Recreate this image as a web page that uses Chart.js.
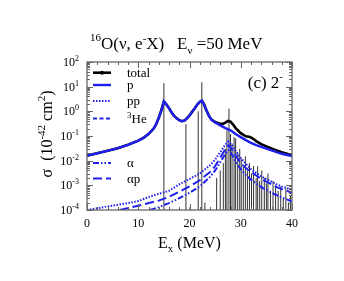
<!DOCTYPE html>
<html lang="en">
<head>
<meta charset="UTF-8">
<title>16O(nu, e- X) 2- partial cross sections</title>
<script src="https://cdnjs.cloudflare.com/ajax/libs/Chart.js/4.4.0/chart.umd.min.js"></script>
<style>
  html, body { margin: 0; padding: 0; background: #fff; }
  canvas { display: block; }
</style>
</head>
<body>
<canvas id="chart" width="344" height="281"></canvas>
<script>
// cross sections in 10^-42 cm^2 vs excitation energy Ex (MeV)
const pE   = [0, 2, 4, 6, 8, 10, 11, 12, 13, 13.5, 14, 14.5, 15, 15.5, 16, 16.5, 17, 17.5, 18, 18.5, 19, 19.5, 20, 20.5, 21, 21.5, 22, 22.4, 22.8, 23.3, 23.8, 24.3, 25, 26, 27, 28, 29, 30, 31, 32, 33, 34, 35, 36, 37, 38, 39, 40];
const pVal = [0.016, 0.02, 0.025, 0.032, 0.044, 0.065, 0.083, 0.12, 0.2, 0.3, 0.55, 1.1, 2.5, 1.9, 1.35, 0.9, 0.65, 0.52, 0.44, 0.4, 0.42, 0.52, 0.68, 0.95, 1.3, 1.85, 2.4, 2.7, 2.0, 1.1, 0.65, 0.45, 0.35, 0.27, 0.21, 0.17, 0.12, 0.09, 0.068, 0.053, 0.043, 0.036, 0.031, 0.026, 0.022, 0.019, 0.017, 0.0152];

const totE   = [0, 2, 4, 6, 8, 10, 11, 12, 13, 13.5, 14, 14.5, 15, 15.5, 16, 16.5, 17, 17.5, 18, 18.5, 19, 19.5, 20, 20.5, 21, 21.5, 22, 22.4, 22.8, 23.3, 23.8, 24.3, 25, 26, 26.5, 27, 27.5, 28, 28.5, 29, 30, 31, 31.8, 32.5, 33, 34, 35, 36, 37, 38, 39, 40];
const totVal = [0.016, 0.02, 0.025, 0.032, 0.044, 0.065, 0.083, 0.12, 0.2, 0.3, 0.55, 1.1, 2.5, 1.9, 1.35, 0.9, 0.65, 0.52, 0.44, 0.4, 0.42, 0.52, 0.68, 0.95, 1.3, 1.85, 2.4, 2.7, 2.0, 1.1, 0.65, 0.46, 0.37, 0.31, 0.31, 0.35, 0.41, 0.38, 0.29, 0.21, 0.13, 0.097, 0.092, 0.075, 0.062, 0.047, 0.038, 0.031, 0.026, 0.022, 0.019, 0.0165];

const ppE   = [0, 4, 8, 10, 12.3, 14, 16, 18, 20, 22, 24, 25, 26, 27, 27.6, 28.2, 29, 30, 31, 32, 33, 34, 35, 36, 37, 38, 39, 40];
const ppVal = [1.0e-4, 1.4e-4, 1.9e-4, 2.3e-4, 3.5e-4, 4.5e-4, 6e-4, 1.1e-3, 1.8e-3, 3.0e-3, 6.5e-3, 0.011, 0.022, 0.045, 0.06, 0.045, 0.025, 0.013, 7.5e-3, 4.5e-3, 3.2e-3, 2.3e-3, 1.8e-3, 1.4e-3, 1.1e-3, 9e-4, 7.8e-4, 6.5e-4];

// 3He channel stays below the plotted range
const he3E   = [];
const he3Val = [];

const aE   = [12.3, 14, 16, 18, 20, 22, 24, 25, 26, 27, 27.6, 28.2, 29, 30, 31, 32, 33, 34, 35, 36, 37, 38, 39, 40];
const aVal = [1e-4, 1.3e-4, 1.9e-4, 3e-4, 5e-4, 9e-4, 2.2e-3, 4e-3, 8.5e-3, 0.019, 0.027, 0.019, 9e-3, 4.5e-3, 2.6e-3, 1.7e-3, 1.2e-3, 8.5e-4, 6.5e-4, 5e-4, 4e-4, 3.2e-4, 2.7e-4, 2.2e-4];

const apE   = [6.4, 10, 14, 16, 18, 20, 22, 24, 25, 26, 27, 27.6, 28.2, 29, 30, 31, 32, 33, 34, 35, 36, 37, 38, 39, 40];
const apVal = [1e-4, 1.5e-4, 2.4e-4, 3.4e-4, 5.5e-4, 9e-4, 1.6e-3, 3.5e-3, 6e-3, 0.013, 0.03, 0.043, 0.03, 0.016, 8e-3, 5e-3, 3.5e-3, 2.5e-3, 1.8e-3, 1.4e-3, 1.1e-3, 8.5e-4, 7e-4, 6e-4, 5e-4];

// discrete transition strengths (vertical sticks)
const lineE = [15.0, 19.3, 20.1, 21.7, 22.4, 23.0, 25.3, 26.0, 26.6, 27.0, 27.3, 27.7, 28.0, 28.3, 28.7, 29.0, 29.4, 29.8, 30.1, 30.5, 30.9, 31.3, 31.7, 32.1, 32.5, 33.0, 33.3, 33.7, 34.1, 34.6, 35.0, 35.3, 35.8, 36.3, 36.8, 37.3, 37.8, 38.3, 38.8, 39.3, 39.7];
const lineH = [14, 0.3, 1.3e-4, 1.0, 15, 2e-4, 2e-3, 4e-3, 8e-3, 0.03, 0.17, 1.3, 0.12, 0.05, 0.09, 0.08, 0.02, 0.03, 0.012, 0.006, 0.015, 0.004, 0.008, 0.003, 0.006, 0.002, 0.006, 0.0015, 0.004, 0.002, 0.0012, 0.003, 0.0006, 0.0015, 0.001, 0.0006, 0.0009, 0.0003, 0.0008, 0.0002, 0.0004];

const xMajor = [0, 10, 20, 30, 40];
const yExp = [-4, -3, -2, -1, 0, 1, 2];

const SERIF = '"Liberation Serif", "Times New Roman", serif';
const BLUE = '#1f1ff0';

const pts = (xs, ys) => xs.map((x, i) => ({x: x, y: ys[i]}));
const sticks = [];
lineE.forEach((e, i) => {
    sticks.push({x: e, y: 1e-4}, {x: e, y: lineH[i]}, {x: e, y: null});
});

function drawRuns(ctx, x, y, runs, align) {
    let w = 0;
    runs.forEach(r => { ctx.font = r.size + 'px ' + SERIF; w += ctx.measureText(r.t).width; });
    let cx = align === 'center' ? x - w / 2 : align === 'right' ? x - w : x;
    ctx.textAlign = 'left';
    runs.forEach(r => {
        ctx.font = r.size + 'px ' + SERIF;
        ctx.fillText(r.t, cx, y + (r.dy || 0));
        cx += ctx.measureText(r.t).width;
    });
}

const legendRows = [
    {ds: 0, row: 10.7, label: [{t: 'total', size: 13}]},
    {ds: 1, row: 23, label: [{t: 'p', size: 13}]},
    {ds: 2, row: 39, label: [{t: 'pp', size: 13}]},
    {ds: 3, row: 56.5, label: [{t: '3', size: 9, dy: -5}, {t: 'He', size: 13}]},
    {ds: 4, row: 101, label: [{t: 'α', size: 13}]},
    {ds: 5, row: 116.5, label: [{t: 'αp', size: 13}]}
];

const decorations = {
    id: 'decorations',
    afterDraw(chart) {
        const ctx = chart.ctx, a = chart.chartArea;
        const x = chart.scales.x, y = chart.scales.y;
        ctx.save();

        // frame and inward ticks on all sides
        ctx.strokeStyle = '#666';
        ctx.lineWidth = 1.3;
        ctx.strokeRect(a.left, a.top, a.right - a.left, a.bottom - a.top);
        ctx.lineWidth = 1;
        ctx.beginPath();
        for (let v = xMajor[0]; v <= xMajor[xMajor.length - 1]; v += 2) {
            const px = Math.round(x.getPixelForValue(v)) + 0.5;
            const len = xMajor.includes(v) ? 6 : 3;
            ctx.moveTo(px, a.bottom); ctx.lineTo(px, a.bottom - len);
            ctx.moveTo(px, a.top); ctx.lineTo(px, a.top + len);
        }
        yExp.forEach((e, i) => {
            for (let m = 1; m < 10; m++) {
                if (i === yExp.length - 1 && m > 1) break;
                const py = Math.round(y.getPixelForValue(m * Math.pow(10, e))) + 0.5;
                const len = m === 1 ? 6 : 3;
                ctx.moveTo(a.left, py); ctx.lineTo(a.left + len, py);
                ctx.moveTo(a.right, py); ctx.lineTo(a.right - len, py);
            }
        });
        ctx.stroke();

        ctx.fillStyle = '#000';
        ctx.textBaseline = 'alphabetic';
        // x tick labels
        xMajor.forEach(v => {
            drawRuns(ctx, x.getPixelForValue(v), a.bottom + 17, [{t: String(v), size: 12}], 'center');
        });
        // y tick labels 10^n
        yExp.forEach(e => {
            const py = y.getPixelForValue(Math.pow(10, e));
            const ex = e < 0 ? '-' + (-e) : String(e);
            drawRuns(ctx, a.left - 8, py + 4, [{t: '10', size: 12}, {t: ex, size: 8, dy: -5}], 'right');
        });

        // axis titles
        drawRuns(ctx, (a.left + a.right) / 2, a.bottom + 38,
            [{t: 'E', size: 16}, {t: 'x', size: 11, dy: 4}, {t: ' (MeV)', size: 16}], 'center');
        ctx.save();
        ctx.translate(a.left - 35, (a.top + a.bottom) / 2 - 2);
        ctx.rotate(-Math.PI / 2);
        drawRuns(ctx, 0, 0, [{t: 'σ  (10', size: 16}, {t: '-42', size: 11, dy: -7},
            {t: ' cm', size: 16}, {t: '2', size: 11, dy: -7}, {t: ')', size: 16}], 'center');
        ctx.restore();

        // header and panel tag
        drawRuns(ctx, a.left + 3, 49, [{t: '16', size: 11, dy: -8}, {t: 'O(ν, e', size: 17},
            {t: '-', size: 11, dy: -7}, {t: 'X)   E', size: 17}, {t: 'ν', size: 11, dy: 5},
            {t: ' =50 MeV', size: 17}], 'left');
        drawRuns(ctx, a.right - 9, a.top + 26, [{t: '(c) 2', size: 17}, {t: '-', size: 11, dy: -8}], 'right');

        // legend
        legendRows.forEach(r => {
            const ds = chart.data.datasets[r.ds];
            const ly = a.top + r.row;
            ctx.save();
            ctx.strokeStyle = ds.borderColor;
            ctx.lineWidth = ds.borderWidth;
            ctx.setLineDash(ds.borderDash || []);
            ctx.beginPath();
            ctx.moveTo(a.left + 6, ly);
            ctx.lineTo(a.left + 24, ly);
            ctx.stroke();
            if (r.ds === 0) {
                ctx.fillStyle = ds.borderColor;
                ctx.beginPath();
                ctx.arc(a.left + 15, ly, 2, 0, Math.PI * 2);
                ctx.fill();
            }
            ctx.restore();
            ctx.fillStyle = '#000';
            drawRuns(ctx, a.left + 40, ly + 4, r.label, 'left');
        });
        ctx.restore();
    }
};

const lineDs = (data, color, width, dash) => ({
    data: data, borderColor: color, borderWidth: width, borderDash: dash,
    pointRadius: 0, tension: 0, fill: false
});

new Chart(document.getElementById('chart'), {
    type: 'line',
    data: {
        datasets: [
            Object.assign(lineDs(pts(totE, totVal), '#000', 2.6, []), {order: 6}),
            Object.assign(lineDs(pts(pE, pVal), BLUE, 2.4, []), {order: 1}),
            Object.assign(lineDs(pts(ppE, ppVal), BLUE, 2, [1.5, 1.5]), {order: 2}),
            Object.assign(lineDs(pts(he3E, he3Val), BLUE, 2, [4, 2.5]), {order: 3}),
            Object.assign(lineDs(pts(aE, aVal), BLUE, 2, [6, 2, 1.5, 2, 1.5, 2]), {order: 4}),
            Object.assign(lineDs(pts(apE, apVal), BLUE, 2, [9, 4]), {order: 5}),
            Object.assign(lineDs(sticks, '#333', 1, []), {order: 9, spanGaps: false})
        ]
    },
    options: {
        responsive: false,
        animation: false,
        devicePixelRatio: 1,
        layout: {padding: {left: 87, right: 52, top: 62, bottom: 71}},
        plugins: {legend: {display: false}, tooltip: {enabled: false}},
        scales: {
            x: {type: 'linear', min: 0, max: 40, display: false},
            y: {type: 'logarithmic', min: 1e-4, max: 100, display: false}
        }
    },
    plugins: [decorations]
});
</script>
</body>
</html>
